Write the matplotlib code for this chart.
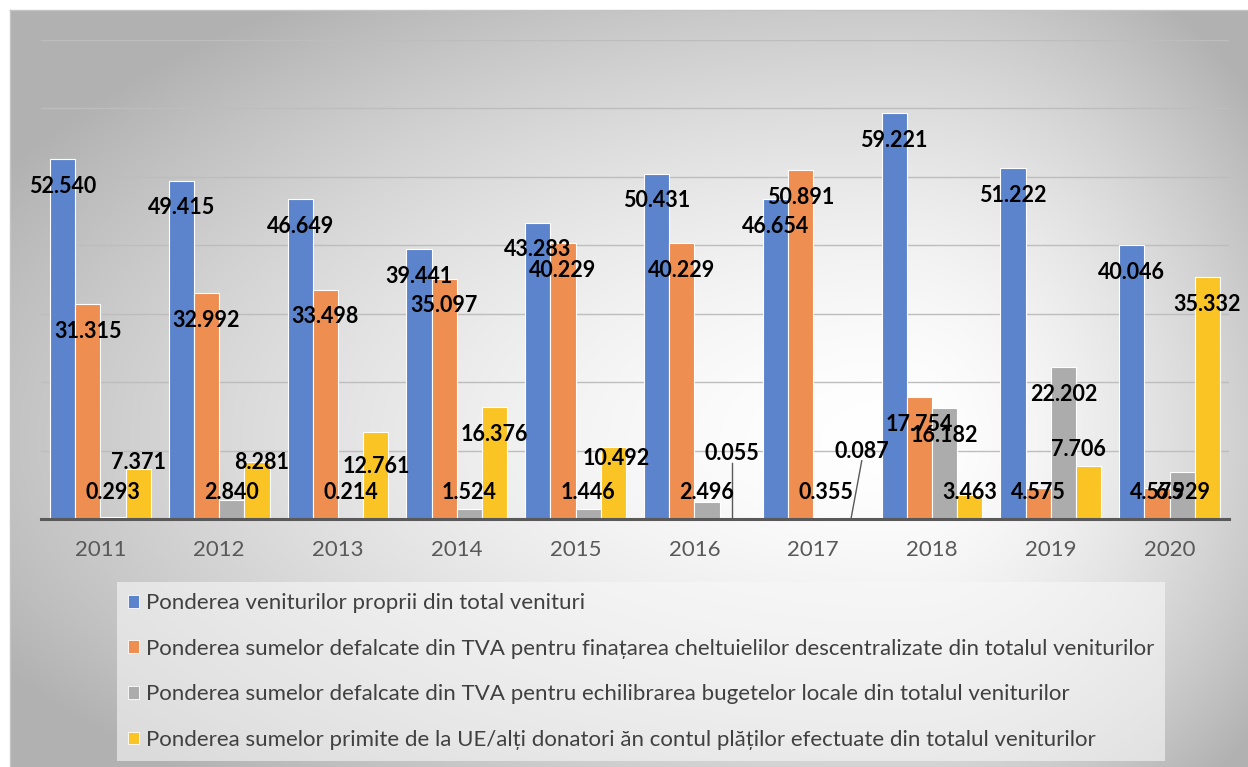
import numpy as np
import matplotlib
matplotlib.use("Agg")
import matplotlib.pyplot as plt
from matplotlib.patches import Patch

plt.rcParams['font.family'] = ['Lato', 'DejaVu Sans']

years = ['2011', '2012', '2013', '2014', '2015', '2016', '2017', '2018', '2019', '2020']
venituri_proprii = [52.540, 49.415, 46.649, 39.441, 43.283, 50.431, 46.654, 59.221, 51.222, 40.046]
tva_descentralizate = [31.315, 32.992, 33.498, 35.097, 40.229, 40.229, 50.891, 17.754, 4.575, 4.575]
tva_echilibrare = [0.293, 2.840, 0.214, 1.524, 1.446, 2.496, 0.355, 16.182, 22.202, 6.929]
ue_donatori = [7.371, 8.281, 12.761, 16.376, 10.492, 0.055, 0.087, 3.463, 7.706, 35.332]

series_names = [
    'Ponderea veniturilor proprii din total venituri',
    'Ponderea sumelor defalcate din TVA pentru finațarea cheltuielilor descentralizate din totalul veniturilor',
    'Ponderea sumelor defalcate din TVA pentru echilibrarea bugetelor locale din totalul veniturilor',
    'Ponderea sumelor primite de la UE/alți donatori ăn contul plăților efectuate din totalul veniturilor',
]
colors = ['#5b84cd', '#ee8e51', '#acacac', '#fbc425']

# hand-moved labels in the original: (series, year) -> (x shift, label y)
label_moves = {(3, 0): (0.0, 8.2), (3, 1): (0.04, 8.2), (3, 2): (0.0, 7.7),
               (3, 4): (0.02, 8.9), (3, 5): (0.0, 9.6), (3, 6): (0.09, 9.9),
               (3, 8): (-0.09, 10.2)}
leader_lines = [(3, 5), (3, 6)]

W, H = 1248, 767
fig = plt.figure(figsize=(W / 100, H / 100), dpi=100)

# gradient background of the chart area
bg = fig.add_axes([0, 0, 1, 1], zorder=-5)
bg.set_xlim(0, W)
bg.set_ylim(H, 0)
bg.axis('off')
xx, yy = np.meshgrid(np.arange(W), np.arange(H))
cx, cy = 900, 440
rx = np.where(xx < cx, 900, 400)
ry = np.where(yy < cy, 470, 400)
d = np.sqrt(((xx - cx) / rx) ** 2 + ((yy - cy) / ry) ** 2)
g = 1.0 - 0.24 * np.clip(d, 0, 1.15) ** 1.7
img = np.dstack([g, g, g])
img[:10, :, :] = 1.0
img[:, :10, :] = 1.0
bg.imshow(img, extent=(0, W, H, 0), aspect='auto', interpolation='bilinear')
bg.plot([10, W], [10, 10], color='#c4c4c4', lw=1)
bg.plot([10, 10], [10, H], color='#c4c4c4', lw=1)

ax = fig.add_axes([41 / W, (H - 519) / H, (1229 - 41) / W, (519 - 39.5) / H])
ax.set_facecolor('none')

data = [venituri_proprii, tva_descentralizate, tva_echilibrare, ue_donatori]
x = np.arange(len(years))
bw = 0.2125
for i, vals in enumerate(data):
    pos = x + (i - 1.5) * bw
    ax.bar(pos, vals, width=bw, color=colors[i], edgecolor='white', linewidth=0.8,
           label=series_names[i], zorder=2)
    for j, v in enumerate(vals):
        dx, ly = label_moves.get((i, j), (0.0, max(v - 4.0, 3.8)))
        ax.text(pos[j] + dx, ly, f'{v:.3f}', ha='center', va='center',
                fontsize=15.5, fontweight='bold', color='black', zorder=4)
        if (i, j) in leader_lines:
            ax.plot([pos[j], pos[j] + dx], [v, ly - 1.4], color='#595959', lw=1, zorder=3)

ax.set_xlim(-0.5, len(years) - 0.5)
ax.set_ylim(0, 70)
ax.set_yticks(np.arange(10, 71, 10))
ax.yaxis.grid(True, color='#bdbdbd', lw=1)
ax.set_axisbelow(True)
ax.tick_params(axis='y', left=False, labelleft=False)
ax.set_xticks(x)
ax.set_xticklabels(years, fontsize=16, color='#595959')
ax.tick_params(axis='x', length=0, pad=15)
for s in ['top', 'right', 'left']:
    ax.spines[s].set_visible(False)
ax.spines['bottom'].set_color('#595959')
ax.spines['bottom'].set_linewidth(2.2)
ax.spines['bottom'].set_zorder(5)

handles = [Patch(facecolor=c, edgecolor='white', lw=0.6) for c in colors]
leg = fig.legend(handles, series_names, loc='upper left',
                 bbox_to_anchor=(117 / W, 1 - 582 / H), fontsize=16,
                 handlelength=0.5, handleheight=0.5, handletextpad=0.3,
                 labelspacing=1.15, borderpad=0.5, borderaxespad=0,
                 frameon=True, fancybox=False, labelcolor='#404040')
leg.get_frame().set_facecolor('#f8f8f8')
leg.get_frame().set_alpha(0.6)
leg.get_frame().set_edgecolor('none')

fig.savefig('out.png', dpi=100)
